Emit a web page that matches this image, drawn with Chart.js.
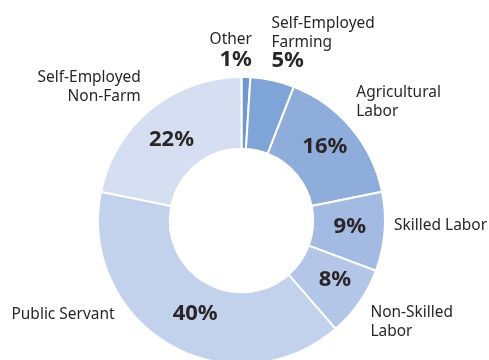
<!DOCTYPE html>
<html>
<head>
<meta charset="utf-8">
<script src="https://cdn.jsdelivr.net/npm/chart.js@4"></script>
<style>
html, body { margin: 0; padding: 0; overflow: hidden; background: #fff; }
#wrap { width: 489px; height: 380px; }
</style>
</head>
<body>
<div id="wrap"><canvas id="myChart"></canvas></div>
<script>
"use strict";
// data, clockwise from the top
const categories = ["Other", "Self-Employed Farming", "Agricultural Labor", "Skilled Labor",
                    "Non-Skilled Labor", "Public Servant", "Self-Employed Non-Farm"];
const shares = [1, 5, 16, 9, 8, 40, 22];
const labelLines = [["Other"], ["Self-Employed", "Farming"], ["Agricultural", "Labor"], ["Skilled Labor"],
                    ["Non-Skilled", "Labor"], ["Public Servant"], ["Self-Employed", "Non-Farm"]];
const sliceColors = ["#6f98d2", "#7ea4d8", "#8fadda", "#a3bbe2", "#b3c6e8", "#c3d2ec", "#d5dff1"];

// where each name goes, relative to the outer edge of its slice
const outside = [
    { align: "right", dx: 6, dy: [-33, -11.5], pctOut: true },
    { align: "left", dx: -1, dy: [-52, -33, -13], pctOut: true },
    { align: "left", dx: 5, dy: [-31, -12.5], pdx: 1, pdy: -5 },
    { align: "left", dx: 9.5, dy: [-2], pdx: 1, pdy: -3 },
    { align: "left", dx: 11, dy: [15, 34], pdx: 5, pdy: -3 },
    { align: "right", dx: -54.5, dy: [-25], pdx: 8, pdy: -1 },
    { align: "right", dx: -10, dy: [-27, -8.5], pdx: -2, pdy: 1.5 }
];

const textColor = "#2a2627";
const nameFont = "17px 'Noto Sans'";
const pctFont = "bold 22px 'Noto Sans'";

function squeezeText(ctx, txt, x, y) {
    const w = ctx.measureText(txt).width;
    ctx.fillText(txt, x, y, w * 0.91);
}

const labelPlugin = {
    id: "sliceLabels",
    afterDatasetsDraw(chart) {
        const ctx = chart.ctx;
        const meta = chart.getDatasetMeta(0);
        ctx.save();
        ctx.fillStyle = textColor;
        meta.data.forEach((arc, i) => {
            const p = arc.getProps(["x", "y", "startAngle", "endAngle", "outerRadius"], true);
            const mid = (p.startAngle + p.endAngle) / 2;
            const ex = p.x + Math.cos(mid) * p.outerRadius;
            const ey = p.y + Math.sin(mid) * p.outerRadius;
            const lay = outside[i];
            ctx.textAlign = lay.align;
            ctx.textBaseline = "alphabetic";
            ctx.font = nameFont;
            labelLines[i].forEach((line, j) => {
                squeezeText(ctx, line, ex + lay.dx, ey + lay.dy[j]);
            });
            const pct = shares[i] + "%";
            ctx.font = pctFont;
            if (lay.pctOut) {
                ctx.fillText(pct, ex + lay.dx, ey + lay.dy[labelLines[i].length]);
            } else {
                const c = arc.tooltipPosition(true);
                ctx.textAlign = "center";
                ctx.textBaseline = "middle";
                ctx.fillText(pct, c.x + lay.pdx, c.y + 1 + lay.pdy);
            }
        });
        ctx.restore();
    }
};

const myChart = new Chart(document.getElementById("myChart"), {
    type: "doughnut",
    data: {
        labels: categories,
        datasets: [{
            data: shares,
            backgroundColor: sliceColors,
            borderColor: "#ffffff",
            borderWidth: 2
        }]
    },
    options: {
        responsive: true,
        maintainAspectRatio: false,
        animation: false,
        cutout: "50%",
        layout: { padding: { top: 76, bottom: 15, left: 97, right: 103 } },
        plugins: {
            legend: { display: false },
            tooltip: { enabled: false }
        }
    },
    plugins: [labelPlugin]
});
</script>
</body>
</html>
